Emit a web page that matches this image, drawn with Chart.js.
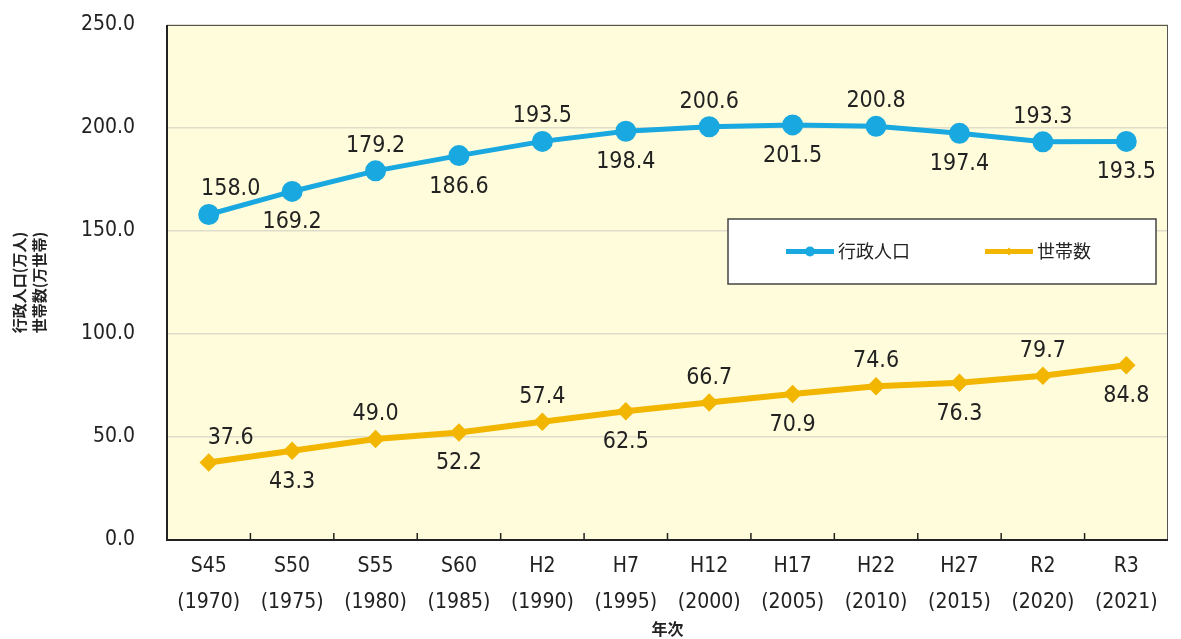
<!DOCTYPE html>
<html>
<head>
<meta charset="utf-8">
<script src="https://cdn.jsdelivr.net/npm/chart.js@4"></script>
<style>
  html, body { margin: 0; padding: 0; background: #fff; overflow: hidden; }
  #wrap { width: 1181px; height: 639px; }
  canvas { display: block; }
</style>
</head>
<body>
<div id="wrap"><canvas id="popChart"></canvas></div>
<script>
const eraLabels = ['S45', 'S50', 'S55', 'S60', 'H2', 'H7', 'H12', 'H17', 'H22', 'H27', 'R2', 'R3'];
const yearLabels = ['(1970)', '(1975)', '(1980)', '(1985)', '(1990)', '(1995)', '(2000)', '(2005)', '(2010)', '(2015)', '(2020)', '(2021)'];
const population = [158.0, 169.2, 179.2, 186.6, 193.5, 198.4, 200.6, 201.5, 200.8, 197.4, 193.3, 193.5];
const households = [37.6, 43.3, 49.0, 52.2, 57.4, 62.5, 66.7, 70.9, 74.6, 76.3, 79.7, 84.8];
const yTicks = [0, 50, 100, 150, 200, 250];

const numFont = "'Liberation Sans Narrow', 'DejaVu Sans Condensed', 'Noto Sans CJK JP', sans-serif";
const jpFont = "'Noto Sans CJK JP', sans-serif";

// cream plot background, frame and inner x ticks
const plotFrame = {
    id: 'plotFrame',
    beforeDraw(chart) {
        const { ctx, chartArea: a } = chart;
        ctx.save();
        ctx.fillStyle = '#fffcdb';
        ctx.fillRect(a.left, a.top, a.right - a.left, a.bottom - a.top);
        ctx.restore();
    },
    beforeDatasetsDraw(chart) {
        const { ctx, chartArea: a, scales } = chart;
        ctx.save();
        ctx.strokeStyle = '#555';
        ctx.lineWidth = 1;
        ctx.strokeRect(a.left + 0.5, a.top + 0.5, a.right - a.left - 1, a.bottom - a.top);
        ctx.strokeStyle = '#222';
        ctx.lineWidth = 2;
        ctx.beginPath();
        ctx.moveTo(a.left, a.top);
        ctx.lineTo(a.left, a.bottom);
        ctx.lineTo(a.right, a.bottom);
        ctx.stroke();
        const x = scales.x;
        ctx.lineWidth = 1.5;
        ctx.beginPath();
        for (let i = 0; i < eraLabels.length - 1; i++) {
            const px = (x.getPixelForValue(i) + x.getPixelForValue(i + 1)) / 2;
            ctx.moveTo(px, a.bottom);
            ctx.lineTo(px, a.bottom - 7);
        }
        ctx.stroke();
        ctx.restore();
    }
};

// value labels, alternating above / below
const valueLabels = {
    id: 'valueLabels',
    afterDatasetsDraw(chart) {
        const { ctx } = chart;
        ctx.save();
        ctx.font = '23px ' + numFont;
        ctx.fillStyle = '#222';
        ctx.textAlign = 'center';
        ctx.textBaseline = 'middle';
        chart.data.datasets.forEach((ds, di) => {
            chart.getDatasetMeta(di).data.forEach((pt, i) => {
                const dy = i % 2 === 0 ? -25 : 31;
                const dx = i === 0 ? 22 : 0;
                ctx.fillText(ds.data[i].toFixed(1), pt.x + dx, pt.y + dy);
            });
        });
        ctx.restore();
    }
};

// boxed legend inside the plot area
const boxLegend = {
    id: 'boxLegend',
    afterDraw(chart) {
        const { ctx, chartArea: a } = chart;
        const bx = a.right - 440, by = a.top + 194, bw = 428, bh = 65;
        ctx.save();
        ctx.fillStyle = '#fff';
        ctx.fillRect(bx, by, bw, bh);
        ctx.strokeStyle = '#444';
        ctx.lineWidth = 1.5;
        ctx.strokeRect(bx, by, bw, bh);
        const cy = by + bh / 2;
        const starts = [bx + 58, bx + 257];
        chart.data.datasets.forEach((ds, i) => {
            const sx = starts[i];
            ctx.strokeStyle = ds.borderColor;
            ctx.lineWidth = 5;
            ctx.beginPath();
            ctx.moveTo(sx, cy);
            ctx.lineTo(sx + 48, cy);
            ctx.stroke();
            ctx.fillStyle = ds.borderColor;
            ctx.beginPath();
            if (i === 0) {
                ctx.arc(sx + 24, cy, 5, 0, Math.PI * 2);
            } else {
                ctx.moveTo(sx + 24, cy - 4); ctx.lineTo(sx + 28, cy);
                ctx.lineTo(sx + 24, cy + 4); ctx.lineTo(sx + 20, cy);
            }
            ctx.fill();
            ctx.fillStyle = '#222';
            ctx.font = '18px ' + jpFont;
            ctx.textAlign = 'left';
            ctx.textBaseline = 'middle';
            ctx.fillText(ds.label, sx + 52, cy);
        });
        ctx.restore();
    }
};

const ctx = document.getElementById('popChart').getContext('2d');
const popChart = new Chart(ctx, {
    type: 'line',
    data: {
        labels: eraLabels.map((e, i) => [e, yearLabels[i]]),
        datasets: [
            {
                label: '行政人口',
                data: population,
                borderColor: '#19a8e0',
                backgroundColor: '#19a8e0',
                borderWidth: 5,
                pointRadius: 8,
                pointHoverRadius: 8,
                pointStyle: 'circle',
                tension: 0
            },
            {
                label: '世帯数',
                data: households,
                borderColor: '#f2b600',
                backgroundColor: '#f2b600',
                borderWidth: 6,
                pointRadius: 5,
                pointHoverRadius: 5,
                pointStyle: 'rectRot',
                tension: 0
            }
        ]
    },
    options: {
        responsive: true,
        maintainAspectRatio: false,
        animation: false,
        layout: { padding: { top: 25, right: 9, left: 0, bottom: 0 } },
        plugins: {
            legend: { display: false },
            tooltip: { enabled: false }
        },
        scales: {
            x: {
                offset: true,
                afterFit(scale) {
                    scale.height = 99;
                    scale.paddingLeft = 0;
                    scale.paddingRight = 0;
                },
                grid: { display: false, drawTicks: false },
                border: { display: false },
                ticks: {
                    color: '#222',
                    font: { size: 21, family: numFont, lineHeight: 1.7 },
                    padding: 9
                },
                title: {
                    display: true,
                    text: '年次',
                    color: '#222',
                    font: { size: 16, weight: 'bold', family: jpFont },
                    padding: { top: 0, bottom: 0 }
                }
            },
            y: {
                min: 0,
                max: 250,
                afterBuildTicks(scale) {
                    scale.ticks = yTicks.map(v => ({ value: v }));
                },
                afterFit(scale) {
                    scale.width = 167;
                    scale.paddingTop = 0;
                    scale.paddingBottom = 0;
                },
                grid: {
                    color: '#dedccb',
                    lineWidth: 1.5,
                    drawTicks: false
                },
                border: { display: false },
                ticks: {
                    color: '#222',
                    font: { size: 21, family: numFont },
                    padding: 32,
                    callback: v => v.toFixed(1)
                },
                title: {
                    display: true,
                    text: ['行政人口(万人)', '世帯数(万世帯)'],
                    color: '#222',
                    font: { size: 15, weight: 'bold', family: jpFont, lineHeight: 1.3 },
                    padding: { top: 10, bottom: 0 }
                }
            }
        }
    },
    plugins: [plotFrame, valueLabels, boxLegend]
});
</script>
</body>
</html>
